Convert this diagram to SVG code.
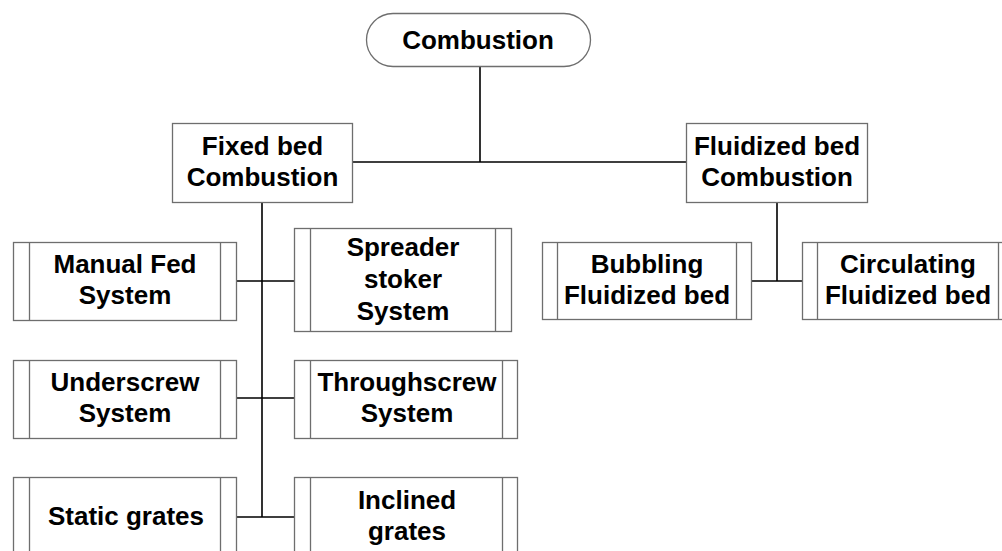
<svg xmlns="http://www.w3.org/2000/svg" width="1002" height="551" viewBox="0 0 1002 551">
<style>
.bx{fill:#fff;stroke:#6e6e6e;stroke-width:1.3}
.in{stroke:#6e6e6e;stroke-width:1.3;fill:none}
.t{font-family:"Liberation Sans",Arial,sans-serif;font-weight:bold;font-size:26px;fill:#000;text-anchor:middle}
.c{stroke:#000;stroke-width:1.6;fill:none}
</style>
<rect width="1002" height="551" fill="#fff"/>
<g id="connectors">
<path class="c" d="M480 66V162M353 162H687"/>
<path class="c" d="M262 202V517M236 281H294M236 398H294M236 517H294"/>
<path class="c" d="M777 202V281M751 281H802"/>
</g>
<g id="combustion">
<rect class="bx" x="366.5" y="13.5" width="224" height="53" rx="26.5"/>
<text class="t" x="478" y="49">Combustion</text>
</g>
<g id="fixed-bed">
<rect class="bx" x="172.5" y="123.5" width="180" height="79"/>
<text class="t" x="262.5" y="155">Fixed bed</text>
<text class="t" x="262.5" y="186">Combustion</text>
</g>
<g id="fluidized-bed">
<rect class="bx" x="686.5" y="123.5" width="181" height="79"/>
<text class="t" x="777" y="155">Fluidized bed</text>
<text class="t" x="777" y="186">Combustion</text>
</g>
<g id="manual-fed">
<rect class="bx" x="13.5" y="242.5" width="223" height="78"/>
<path class="in" d="M29.5 242.5V320.5M220.5 242.5V320.5"/>
<text class="t" x="125" y="273">Manual Fed</text>
<text class="t" x="125" y="304">System</text>
</g>
<g id="spreader">
<rect class="bx" x="294.5" y="228.5" width="217" height="103"/>
<path class="in" d="M310.5 228.5V331.5M495.5 228.5V331.5"/>
<text class="t" x="403" y="256">Spreader</text>
<text class="t" x="403" y="288">stoker</text>
<text class="t" x="403" y="320">System</text>
</g>
<g id="underscrew">
<rect class="bx" x="13.5" y="360.5" width="223" height="78"/>
<path class="in" d="M29.5 360.5V438.5M220.5 360.5V438.5"/>
<text class="t" x="125" y="391">Underscrew</text>
<text class="t" x="125" y="422">System</text>
</g>
<g id="throughscrew">
<rect class="bx" x="294.5" y="360.5" width="223" height="78"/>
<path class="in" d="M310.5 360.5V438.5M502.5 360.5V438.5"/>
<text class="t" x="407" y="391">Throughscrew</text>
<text class="t" x="407" y="422">System</text>
</g>
<g id="static-grates">
<rect class="bx" x="13.5" y="477.5" width="223" height="79"/>
<path class="in" d="M29.5 477.5V556.5M220.5 477.5V556.5"/>
<text class="t" x="126" y="525">Static grates</text>
</g>
<g id="inclined-grates">
<rect class="bx" x="294.5" y="477.5" width="223" height="79"/>
<path class="in" d="M310.5 477.5V556.5M502.5 477.5V556.5"/>
<text class="t" x="407" y="509">Inclined</text>
<text class="t" x="407" y="540">grates</text>
</g>
<g id="bubbling">
<rect class="bx" x="542.5" y="242.5" width="209" height="77"/>
<path class="in" d="M557.5 242.5V319.5M736.5 242.5V319.5"/>
<text class="t" x="647" y="273">Bubbling</text>
<text class="t" x="647" y="304">Fluidized bed</text>
</g>
<g id="circulating">
<rect class="bx" x="802.5" y="242.5" width="211" height="77"/>
<path class="in" d="M817.5 242.5V319.5M998.5 242.5V319.5"/>
<text class="t" x="908" y="273">Circulating</text>
<text class="t" x="908" y="304">Fluidized bed</text>
</g>
</svg>
